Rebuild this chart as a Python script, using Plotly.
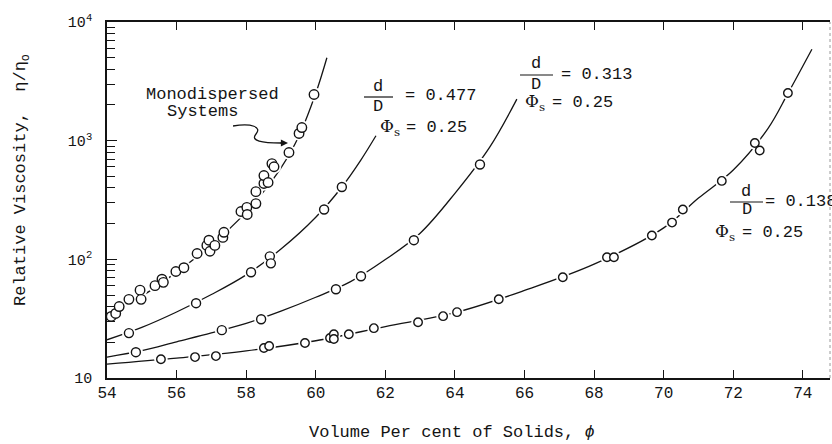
import plotly.graph_objects as go

# ---------------- data ----------------
# Monodispersed systems (measured points)
mono_x = [54.12, 54.25, 54.35, 54.63, 54.95, 54.98, 55.38, 55.58, 55.62, 55.98,
          56.21, 56.59, 56.87, 56.93, 56.96, 57.10, 57.33, 57.36, 57.85, 58.02,
          58.03, 58.28, 58.28, 58.51, 58.51, 58.63, 58.74, 58.80, 59.23, 59.52,
          59.60, 59.95]
mono_y = [33, 35, 40, 46, 55, 46, 60, 68, 64, 79,
          85, 112, 131, 145, 117, 131, 153, 169, 253, 274,
          239, 295, 372, 436, 508, 444, 641, 603, 795, 1150,
          1290, 2450]

# d/D = 0.477, phi_s = 0.25
r477_x = [54.63, 56.56, 58.14, 58.68, 58.71, 60.24, 60.75]
r477_y = [23.9, 42.7, 77.8, 106, 92.5, 263, 407]

# d/D = 0.313, phi_s = 0.25
r313_x = [54.83, 57.30, 58.43, 60.58, 61.30, 62.82, 64.72]
r313_y = [16.5, 25.3, 31.3, 56, 72, 145, 630]

# d/D = 0.138, phi_s = 0.25
r138_x = [55.55, 56.53, 57.13, 58.51, 58.66, 59.69, 60.41, 60.52, 60.52, 60.95,
          61.67, 62.94, 63.66, 64.06, 65.26, 67.10, 68.37, 68.57, 69.66, 70.24,
          70.55, 71.67, 72.62, 72.76, 73.57]
r138_y = [14.4, 15.0, 15.3, 17.9, 18.6, 19.7, 21.7, 23.4, 21.3, 23.4,
          26.3, 29.5, 33.2, 35.9, 46.1, 70.6, 104, 104, 159, 204,
          263, 458, 955, 826, 2520]

# faired curves
mono_cx = [54, 55, 56, 57, 58, 58.5, 59, 59.5, 60, 60.32]
mono_cy = [34, 49, 78, 132, 250, 372, 590, 1070, 2510, 5000]
c477_x = [54, 55, 56, 57, 58, 59, 60, 60.75, 61.3, 61.73]
c477_y = [21, 26.7, 36, 50.5, 74, 122, 226, 407, 690, 1100]
c313_x = [54, 55, 56, 57, 58, 59, 60, 61, 62, 63, 64, 65, 65.78]
c313_y = [15, 17, 20.2, 24, 28.9, 36.6, 47.9, 64.8, 99.5, 166, 360, 883, 2240]
c138_x = [54, 56, 58, 60, 62, 64, 66, 68, 70, 71, 72, 73, 73.57, 74.26]
c138_y = [13.1, 14.7, 16.9, 20.6, 27.1, 35.5, 54.7, 91, 184, 328, 566, 1270, 2500, 5900]

x_ticks = [54, 56, 58, 60, 62, 64, 66, 68, 70, 72, 74]
y_ticks = [10, 100, 1000, 10000]
y_ticktext = ["10", "10<sup>2</sup>", "10<sup>3</sup>", "10<sup>4</sup>"]
y_minor = [k * d for d in (10, 100, 1000) for k in range(2, 10)]

# ---------------- figure ----------------
INK = "#141414"
MONO = "Liberation Mono"
W, H = 832, 444
L, R, T, B = 107, 2, 22, 66


def P(px, py):
    """pixel -> paper coordinates"""
    return (px - L) / (W - L - R), (H - B - py) / (H - T - B)


fig = go.Figure()

curves = [(mono_cx, mono_cy), (c477_x, c477_y), (c313_x, c313_y), (c138_x, c138_y)]
for cx, cy in curves:
    fig.add_trace(go.Scatter(x=cx, y=cy, mode="lines", line=dict(color=INK, width=1.3, shape="spline"),
                             hoverinfo="skip", showlegend=False))

series = [(mono_x, mono_y, 9.5), (r477_x, r477_y, 9), (r313_x, r313_y, 9), (r138_x, r138_y, 8.5)]
for sx, sy, sz in series:
    fig.add_trace(go.Scatter(x=sx, y=sy, mode="markers",
                             marker=dict(symbol="circle", size=sz + 5, color="white", line=dict(width=0)),
                             hoverinfo="skip", showlegend=False))
for sx, sy, sz in series:
    fig.add_trace(go.Scatter(x=sx, y=sy, mode="markers",
                             marker=dict(symbol="circle", size=sz, color="white",
                                         line=dict(color=INK, width=1.4)),
                             showlegend=False))

annotations = []
shapes = []


def text(s, px, py, xanchor="center", size=17, family=MONO, angle=0):
    x, y = P(px, py)
    annotations.append(dict(text=s, x=x, y=y, xref="paper", yref="paper", xanchor=xanchor,
                            yanchor="middle", showarrow=False, borderpad=0, textangle=angle,
                            font=dict(family=family, size=size, color=INK)))


def bar(x0, x1, py):
    a, y = P(x0, py)
    b, _ = P(x1, py)
    shapes.append(dict(type="line", xref="paper", yref="paper", x0=a, x1=b, y0=y, y1=y,
                       line=dict(color=INK, width=1.2)))


# axis titles
text("Volume Per cent of Solids, <i>ϕ</i>", 452, 432)
text("Relative Viscosity,  η/η<sub>o</sub>", 22, 180, angle=-90)

# Monodispersed label with curly arrow
text("Monodispersed", 212, 94)
text("Systems", 202, 112)
pts = [(233, 126), (252, 123), (262, 127), (256, 134), (250, 141), (262, 143), (281, 143)]
pp = [P(*p) for p in pts]
path = "M {:.4f},{:.4f} C {:.4f},{:.4f} {:.4f},{:.4f} {:.4f},{:.4f} C {:.4f},{:.4f} {:.4f},{:.4f} {:.4f},{:.4f}".format(
    *[c for p in pp for c in p])
shapes.append(dict(type="path", xref="paper", yref="paper", path=path, line=dict(color=INK, width=1.3)))
tx, ty = P(288, 143)
annotations.append(dict(text="", x=tx, y=ty, xref="paper", yref="paper", ax=-9, ay=0, showarrow=True,
                        arrowhead=2, arrowsize=1.1, arrowwidth=1.3, arrowcolor=INK))

PHI = "Φ<sub>s</sub>"
SERIF = "DejaVu Serif"
# d/D = 0.477
text("d", 378, 86); bar(364, 393, 97); text("D", 378, 107)
text("= 0.477", 404, 96, "left")
text(PHI, 401, 127, "right", family=SERIF)
text("= 0.25", 405, 127, "left")
# d/D = 0.313
text("d", 536, 64); bar(520, 553, 75); text("D", 536, 84)
text("= 0.313", 560, 74, "left")
text(PHI, 546, 103, "right", family=SERIF)
text("= 0.25", 551, 103, "left")
# d/D = 0.138
text("d", 746, 192); bar(730, 763, 202); text("D", 747, 210)
text("= 0.138", 764, 201, "left")
text(PHI, 736, 232, "right", family=SERIF)
text("= 0.25", 741, 232, "left")

# faint dotted right border
shapes.append(dict(type="line", xref="paper", yref="paper", x0=1, x1=1, y0=0, y1=1,
                   line=dict(color="#9a9a9a", width=1, dash="dot")))

fig.update_layout(
    width=W, height=H,
    margin=dict(l=L, r=R, t=T, b=B, autoexpand=False),
    paper_bgcolor="white", plot_bgcolor="white",
    font=dict(family=MONO, color=INK),
    annotations=annotations, shapes=shapes,
    xaxis=dict(range=[54, 74.78], tickvals=x_ticks, ticks="inside", ticklen=8, tickwidth=1.3,
               tickcolor=INK, showline=True, linecolor=INK, linewidth=1.6, mirror="allticks",
               showgrid=False, zeroline=False, automargin=False, ticklabelstandoff=-1,
               tickfont=dict(family=MONO, size=16, color=INK)),
    yaxis=dict(type="log", range=[1, 4], tickvals=y_ticks, ticktext=y_ticktext, ticks="inside",
               ticklen=10, tickwidth=1.3, tickcolor=INK, showline=True, linecolor=INK, linewidth=1.6,
               mirror=False, showgrid=False, zeroline=False, automargin=False, ticklabelstandoff=10,
               tickfont=dict(family=MONO, size=15, color=INK),
               minor=dict(tickvals=y_minor, ticks="inside", ticklen=8, tickwidth=1.2, tickcolor=INK)),
)

# the page's default body margin would shift the figure; remove it
fig.write_html("out.html", config={"displayModeBar": False},
               post_script="document.body.style.margin='0';document.body.style.padding='0';")
